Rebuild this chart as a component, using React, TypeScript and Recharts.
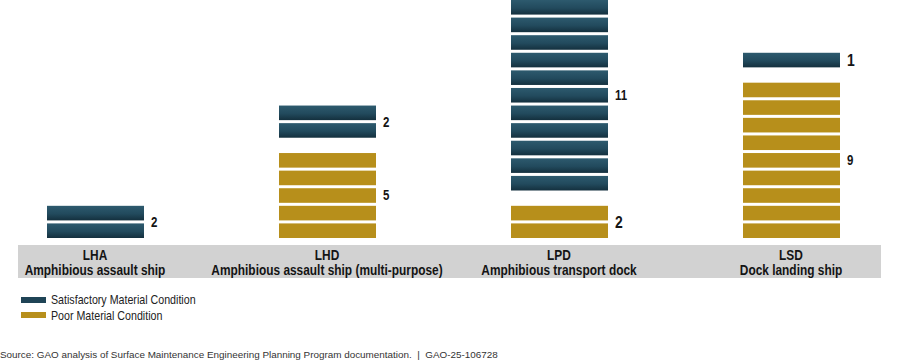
import { Bar, BarChart, LabelList, Legend, XAxis, YAxis } from 'recharts'

const categories = ['LHA', 'LHD', 'LPD', 'LSD']
const descriptions = [
  'Amphibious assault ship',
  'Amphibious assault ship (multi-purpose)',
  'Amphibious transport dock',
  'Dock landing ship',
]
const satisfactory = [2, 2, 11, 1]
const poor = [0, 5, 2, 9]

// blank space (in ship units) between the poor and satisfactory groups
const GROUP_GAP = 0.7
const UNIT_GAP = 3
const TEAL = '#224a5d'
const GOLD = '#b78f1b'
const FONT = '"Liberation Sans", Arial, sans-serif'
// no narrow font installed, so squeeze Liberation Sans horizontally
const NARROW = 0.82
// labels that GAO drew a little larger
const BIG_LABELS = ['LPD-poor', 'LSD-sat']

const data = categories.map((name, i) => ({
  name,
  desc: descriptions[i],
  poor: poor[i],
  gap: poor[i] > 0 ? GROUP_GAP : 0,
  sat: satisfactory[i],
}))

function NarrowText({ x, y, anchor = 'start', size, squeeze = NARROW, baseline, children }: any) {
  return (
    <text
      transform={`translate(${x},${y}) scale(${squeeze},1)`}
      textAnchor={anchor}
      dominantBaseline={baseline}
      fontFamily={FONT}
      fontWeight="bold"
      fontSize={size}
      fill="#141414"
    >
      {children}
    </text>
  )
}

function UnitStack(props: any) {
  const { x, y, width, height, count, fill } = props
  if (!count || !height) return null
  const pitch = height / count
  const rects = []
  for (let i = 0; i < count; i++) {
    rects.push(
      <rect key={i} x={x} y={y + i * pitch + UNIT_GAP} width={width} height={pitch - UNIT_GAP} fill={fill} />,
    )
  }
  return <g>{rects}</g>
}

function countLabel(series: string) {
  return (props: any) => {
    const { x, y, width, height, value, index } = props
    if (!value) return null
    const big = BIG_LABELS.includes(`${categories[index]}-${series}`)
    return (
      <NarrowText x={x + width + 7} y={y + (height + UNIT_GAP) / 2} size={big ? 17 : 14} baseline="central">
        {value}
      </NarrowText>
    )
  }
}

function CategoryTick({ x, y, payload, index }: any) {
  return (
    <g>
      <NarrowText x={x} y={y + 22} anchor="middle" size={14} squeeze={0.85}>
        {payload.value}
      </NarrowText>
      <NarrowText x={x} y={y + 37} anchor="middle" size={14} squeeze={0.85}>
        {descriptions[index]}
      </NarrowText>
    </g>
  )
}

function LegendBox() {
  const items = [
    { label: 'Satisfactory Material Condition', swatch: '#1f4456' },
    { label: 'Poor Material Condition', swatch: GOLD },
  ]
  return (
    <div style={{ fontFamily: FONT, fontSize: 13, color: '#222' }}>
      {items.map((it) => (
        <div key={it.label} style={{ display: 'flex', alignItems: 'center', height: 15.5, whiteSpace: 'nowrap' }}>
          <span style={{ display: 'inline-block', width: 25, height: 6, background: it.swatch, marginRight: 5 }} />
          <span style={{ display: 'inline-block', transform: `scaleX(${NARROW})`, transformOrigin: 'left center' }}>
            {it.label}
          </span>
        </div>
      ))}
    </div>
  )
}

export default function App() {
  return (
    <div
      style={{
        position: 'absolute',
        left: 0,
        top: 0,
        width: 900,
        height: 364,
        overflow: 'hidden',
        background: '#fff',
        fontFamily: FONT,
      }}
    >
      <div style={{ position: 'absolute', left: 18, top: 245, width: 863, height: 33, background: '#d2d2d2' }} />
      <div style={{ position: 'absolute', left: -21, top: 0 }}>
        <BarChart width={928} height={364} data={data} margin={{ top: -3, right: 0, bottom: 74, left: 0 }}>
          <defs>
            <linearGradient id="tealGrad" x1="0" y1="0" x2="0" y2="1">
              <stop offset="0%" stopColor="#2d5a6e" />
              <stop offset="55%" stopColor={TEAL} />
              <stop offset="100%" stopColor="#14303e" />
            </linearGradient>
          </defs>
          <XAxis
            dataKey="name"
            axisLine={false}
            tickLine={false}
            tickSize={0}
            tickMargin={0}
            height={52}
            interval={0}
            tick={<CategoryTick />}
          />
          <YAxis hide domain={[0, 13.7]} />
          <Legend
            layout="vertical"
            align="center"
            verticalAlign="middle"
            wrapperStyle={{ left: 42, top: 292, width: 300 }}
            content={<LegendBox />}
          />
          <Bar
            dataKey="poor"
            stackId="a"
            barSize={97}
            fill={GOLD}
            isAnimationActive={false}
            shape={(p: any) => <UnitStack {...p} fill={GOLD} count={p.payload.poor} />}
          >
            <LabelList dataKey="poor" content={countLabel('poor')} />
          </Bar>
          <Bar dataKey="gap" stackId="a" barSize={97} fill="transparent" legendType="none" isAnimationActive={false} />
          <Bar
            dataKey="sat"
            stackId="a"
            barSize={97}
            fill={TEAL}
            isAnimationActive={false}
            shape={(p: any) => <UnitStack {...p} fill="url(#tealGrad)" count={p.payload.sat} />}
          >
            <LabelList dataKey="sat" content={countLabel('sat')} />
          </Bar>
        </BarChart>
      </div>
      <div style={{ position: 'absolute', left: 0, top: 349, fontSize: 9.9, color: '#333', whiteSpace: 'pre' }}>
        {'Source: GAO analysis of Surface Maintenance Engineering Planning Program documentation.  |  GAO-25-106728'}
      </div>
    </div>
  )
}
